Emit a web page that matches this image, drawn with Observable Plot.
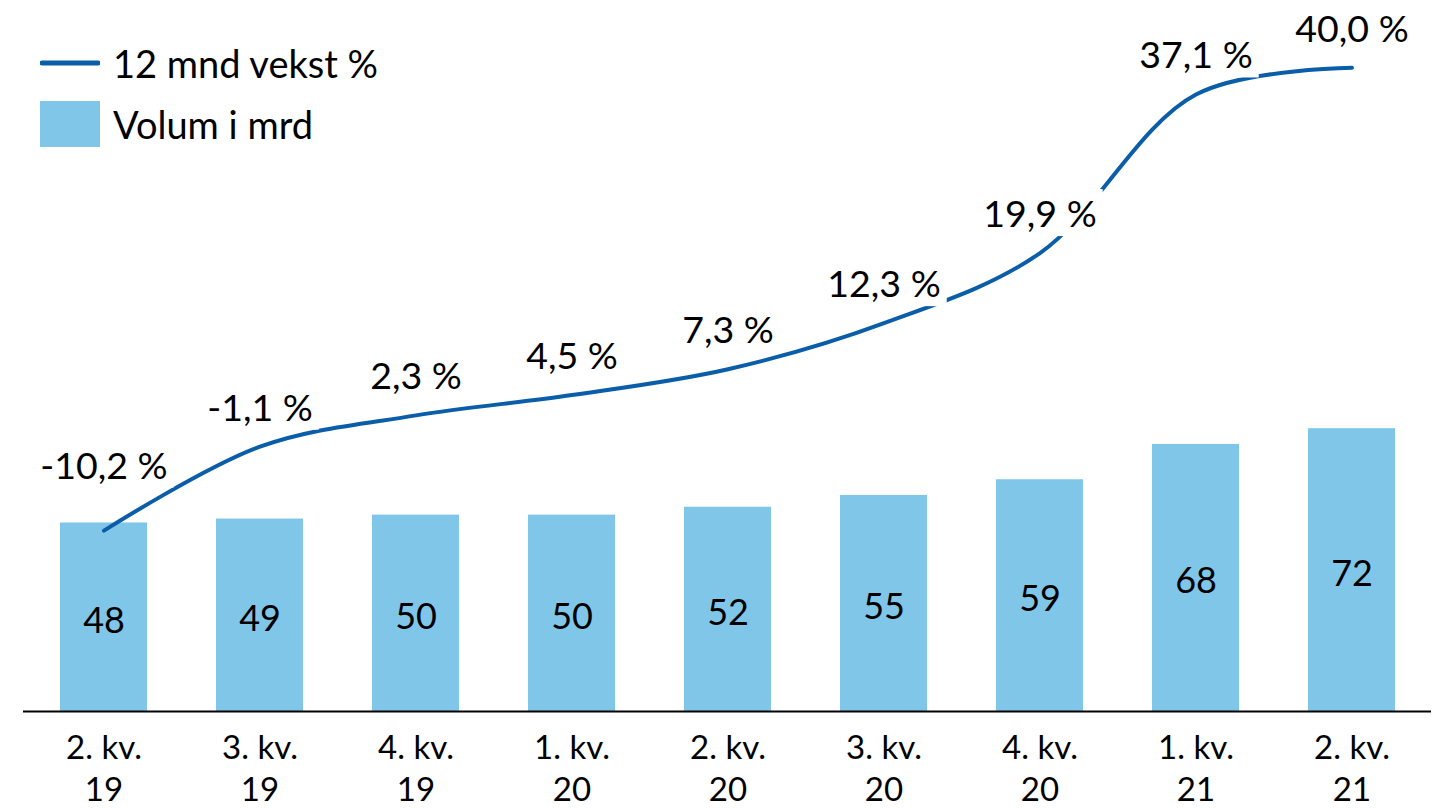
<!DOCTYPE html>
<html><head><meta charset="utf-8">
<script src="https://cdn.jsdelivr.net/npm/d3@7"></script>
<script src="https://cdn.jsdelivr.net/npm/@observablehq/plot@0.6"></script>
<style>
html,body{margin:0;padding:0;background:#fff;}
#wrap{position:relative;width:1453px;height:808px;font-family:Lato,sans-serif;overflow:hidden;}
#chart svg{display:block;}
.leg{position:absolute;left:40px;display:flex;align-items:center;font-size:38px;color:#000;}
.sw{width:60px;margin-right:13px;flex:none;}
</style></head><body>
<div id="wrap"><div id="chart"></div><div id="legend"></div></div>
<script>
// ---- data ----
const quarters = ["2. kv.\n19","3. kv.\n19","4. kv.\n19","1. kv.\n20","2. kv.\n20","3. kv.\n20","4. kv.\n20","1. kv.\n21","2. kv.\n21"];
const volume = [48, 49, 50, 50, 52, 55, 59, 68, 72];
const growth = [-10.2, -1.1, 2.3, 4.5, 7.3, 12.3, 19.9, 37.1, 40.0];
const seriesNames = ["12 mnd vekst %", "Volum i mrd"];
const colors = {line: "#0A5DA8", bar: "#80C6E8"};

const rows = quarters.map((q, i) => ({q, vol: volume[i], g: growth[i], i}));
// secondary axis: growth % mapped onto the volume scale
const gToY = d3.scaleLinear().domain([0, 40]).range([70.0, 163.9]);
const fmtPct = v => v.toFixed(1).replace(".", ",") + " %";

const plot = Plot.plot({
  width: 1453, height: 808,
  marginLeft: 23, marginRight: 22, marginTop: 4, marginBottom: 97,
  style: {fontFamily: "Lato, sans-serif", fontSize: "34px", color: "#000", background: "#fff"},
  x: {domain: quarters, paddingInner: 0.444, paddingOuter: 0.222, label: null},
  y: {domain: [0, 180], axis: null},
  marks: [
    Plot.barY(rows, {x: "q", y: "vol", fill: colors.bar}),
    Plot.text(rows, {x: "q", y: d => d.vol / 2, text: d => String(d.vol), dy: 4, fill: "#000", fontSize: 36}),
    Plot.ruleY([0], {stroke: "#000", strokeWidth: 2}),
    Plot.axisX({tickSize: 0, tickPadding: 18, fontSize: 33, lineHeight: 1.26, fill: "#000"}),
    Plot.line(rows, {x: "q", y: d => gToY(d.g), stroke: colors.line, strokeWidth: 4, curve: "catmull-rom", strokeLinecap: "round"}),
    Plot.text(rows.filter(d => d.i > 0), {x: "q", y: d => gToY(d.g), text: d => fmtPct(d.g), dy: -38, fill: "#000", fontSize: 37.5, className: "pctlab"}),
    Plot.text(rows.filter(d => d.i === 0), {x: "q", y: d => gToY(d.g), text: d => fmtPct(d.g), dy: -64, fill: "#000", fontSize: 37.5, className: "pctlab"})
  ]
});
document.getElementById("chart").appendChild(plot);

// white boxes behind the growth labels
const ns = "http://www.w3.org/2000/svg";
plot.querySelectorAll("g.pctlab text").forEach(t => {
  const b = t.getBBox();
  const r = document.createElementNS(ns, "rect");
  r.setAttribute("x", b.x - 6); r.setAttribute("y", b.y - 1);
  r.setAttribute("width", b.width + 12); r.setAttribute("height", b.height + 2);
  r.setAttribute("fill", "#fff");
  const tr = t.getAttribute("transform"); if (tr) r.setAttribute("transform", tr);
  t.parentNode.insertBefore(r, t);
});

// legend
const leg = document.getElementById("legend");
const items = [
  {name: seriesNames[0], top: 43, h: 40, sw: `<svg class="sw" width="60" height="40"><line x1="2" y1="20" x2="58" y2="20" stroke="${colors.line}" stroke-width="5" stroke-linecap="round"/></svg>`},
  {name: seriesNames[1], top: 101, h: 46, sw: `<div class="sw" style="height:46px;background:${colors.bar}"></div>`}
];
items.forEach(it => {
  const d = document.createElement("div");
  d.className = "leg";
  d.style.top = it.top + "px"; d.style.height = it.h + "px";
  d.innerHTML = it.sw + `<span>${it.name}</span>`;
  leg.appendChild(d);
});
</script>
</body></html>
